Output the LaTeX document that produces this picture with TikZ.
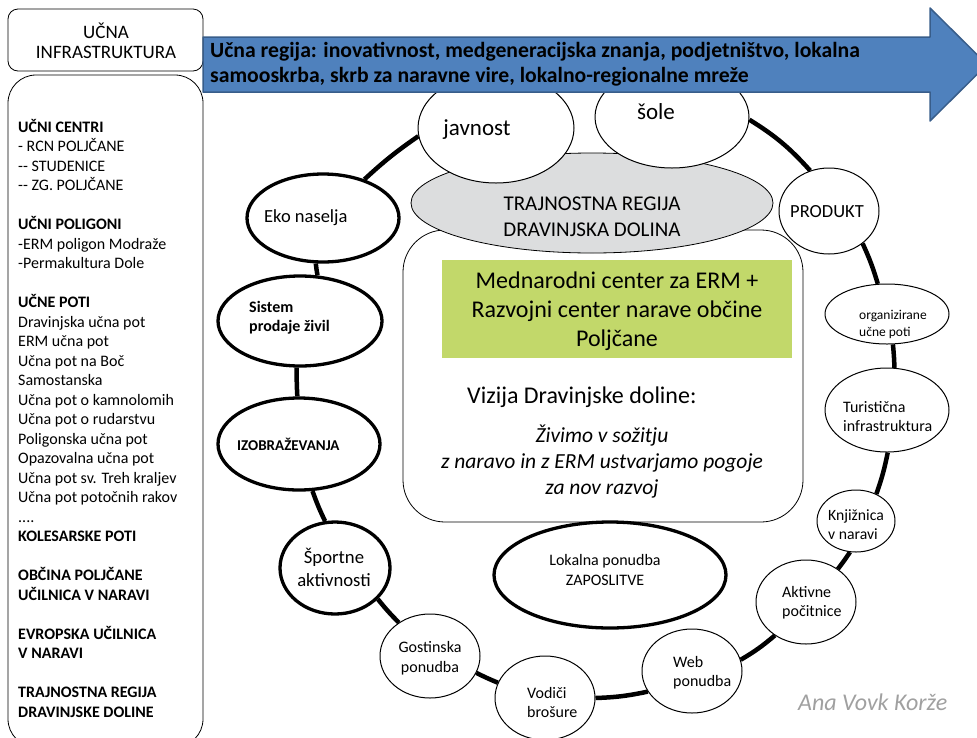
\documentclass[tikz,border=0pt]{standalone}
\usepackage{fontspec}
\setmainfont{Carlito}
\usetikzlibrary{shapes.geometric,backgrounds}
\definecolor{arrowblue}{RGB}{79,129,189}
\definecolor{arrowedge}{RGB}{56,93,138}
\definecolor{greenbox}{RGB}{194,216,106}
\definecolor{greyell}{RGB}{220,221,222}
\definecolor{signgrey}{RGB}{160,160,160}
\newcommand\fs[2]{\fontsize{#1}{#2}\selectfont}
\newcommand\LL[1]{\begin{tabular}[t]{@{}l@{}}#1\end{tabular}}
\newcommand\CC[1]{\begin{tabular}[t]{@{}c@{}}#1\end{tabular}}
\begin{document}
\begin{tikzpicture}[x=1pt,y=-1pt,line join=round,
  sz/.style 2 args={minimum width=#1pt, minimum height=#2pt},
  box/.style={draw=black, line width=0.8pt, fill=white, inner sep=0pt},
  thinell/.style={ellipse, draw=black, line width=1pt, fill=white, inner sep=0pt},
  thickell/.style={ellipse, draw=black, line width=3.3pt, fill=white, inner sep=0pt},
  ring/.style={line width=4.5pt, black},
  txt/.style={inner sep=0pt, text=black}]
\useasboundingbox (0,0) rectangle (977,737);
\clip (0,0) rectangle (977,737);

% left column
\node[box, rounded corners=10pt, sz={195}{62}] (infra) at (105.5,40) {};
\node[txt, anchor=base, font=\fs{19}{20.5}] (infrat) at (106,38) {\CC{UČNA\\INFRASTRUKTURA}};
\node[box, rounded corners=28pt, sz={195}{672}] (listbox) at (105.5,411) {};
\node[txt, anchor=base west, font=\fs{16}{19.5}] (list) at (18,132) {\LL{%
\textbf{UČNI CENTRI}\\
- RCN POLJČANE\\
-{}- STUDENICE\\
-{}- ZG. POLJČANE\\
\\
\textbf{UČNI POLIGONI}\\
-ERM poligon Modraže\\
-Permakultura Dole\\
\\
\textbf{UČNE POTI}\\
Dravinjska učna pot\\
ERM učna pot\\
Učna pot na Boč\\
Samostanska\\
Učna pot o kamnolomih\\
Učna pot o rudarstvu\\
Poligonska učna pot\\
Opazovalna učna pot\\
Učna pot sv. Treh kraljev\\
Učna pot potočnih rakov\\
....\\
\textbf{KOLESARSKE POTI}\\
\\
\textbf{OBČINA POLJČANE}\\
\textbf{UČILNICA V NARAVI}\\
\\
\textbf{EVROPSKA UČILNICA}\\
\textbf{V NARAVI}\\
\\
\textbf{TRAJNOSTNA REGIJA}\\
\textbf{DRAVINJSKE DOLINE}}};

% centre
\node[box, rounded corners=42pt, sz={400}{292}] (mainbox) at (603,376) {};
\node[fill=greenbox, inner sep=0pt, sz={350}{98}] (green) at (617,309) {};
\node[ellipse, fill=greyell, draw=black, line width=0.8pt, inner sep=0pt, sz={362}{100}] (region) at (592,203) {};

% ring ellipses
\node[thinell, sz={156}{110}] (javnost) at (496,128) {};
\node[thinell, sz={154}{102}] (sole) at (672,117) {};
\node[thickell, sz={152}{88}] (eko) at (323,218) {};
\node[thickell, sz={164}{90}] (sistem) at (300,321) {};
\node[thickell, sz={162}{92}] (izob) at (299,444) {};
\node[thickell, sz={110}{92}] (sportne) at (335,568) {};
\node[thinell, sz={100}{84}] (gost) at (430,656) {};
\node[thinell, sz={100}{84}] (vodici) at (545,698) {};
\node[thinell, sz={100}{84}] (web) at (692,671) {};
\node[thinell, sz={100}{84}] (aktivne) at (806,602) {};
\node[thinell, sz={78}{62}] (knj) at (856,521) {};
\node[thinell, sz={124}{84}] (tur) at (887,410) {};
\node[thinell, sz={124}{60}] (org) at (887,314) {};
\node[thinell, sz={100}{86}] (produkt) at (829,211) {};
\node[thickell, sz={232}{106}] (lokalna) at (610,575) {};

% ring connectors
\begin{pgfonlayer}{background}
\draw[ring] (javnost.186) to[bend right=4] (eko.43);
\draw[ring] (eko.261) to[bend right=2] (sistem.69);
\draw[ring] (sistem.266) to[bend right=2] (izob.92);
\draw[ring] (izob.286) to[bend right=3] (sportne.102);
\draw[ring] (sportne.324) to[bend right=3] (gost.133);
\draw[ring] (gost.340) to[bend right=2] (vodici.162);
\draw[ring] (vodici.0) to[bend right=5] (web.205);
\draw[ring] (web.13) to[bend right=5] (aktivne.227);
\draw[ring] (aktivne.46) to[bend right=2] (knj.259);
\draw[ring] (knj.53) to[bend right=4] (tur.271);
\draw[ring] (tur.80) to[bend right=2] (org.281);
\draw[ring] (org.107) to[bend right=4] (produkt.316);
\draw[ring] (produkt.115) to[bend right=8] (sole.358);
\end{pgfonlayer}

% texts
\node[txt, anchor=base, font=\fs{23}{28}] (javnostt) at (477,135) {javnost};
\node[txt, anchor=base, font=\fs{23}{28}] (solet) at (656,119) {šole};
\node[txt, anchor=base, font=\fs{21}{26}] (regiont) at (592,210) {\CC{TRAJNOSTNA REGIJA\\DRAVINJSKA DOLINA}};
\node[txt, anchor=base, font=\fs{24}{29.3}] (greent) at (617,288) {\CC{Mednarodni center za ERM +\\Razvojni center narave občine\\Poljčane}};
\node[txt, anchor=base west, font=\fs{24}{29}] (vizija) at (467,403) {Vizija Dravinjske doline:};
\node[txt, anchor=base, font=\fs{21.5}{26}\itshape] (motto) at (602,442) {\CC{Živimo v sožitju\\z naravo in z ERM ustvarjamo pogoje\\za nov razvoj}};
\node[txt, anchor=base west, font=\fs{18.5}{22}] (ekot) at (264,222) {Eko naselja};
\node[txt, anchor=base west, font=\fs{16}{19.5}\bfseries] (sistemt) at (249,312) {\LL{Sistem\\prodaje živil}};
\node[txt, anchor=base west, font=\fs{15}{18}\bfseries] (izobt) at (237,450) {IZOBRAŽEVANJA};
\node[txt, anchor=base, font=\fs{18.7}{23.4}] (sportnet) at (334,563) {\CC{Športne\\aktivnosti}};
\node[txt, anchor=base, font=\fs{16}{20}] (gostt) at (430,652) {\CC{Gostinska\\ponudba}};
\node[txt, anchor=base west, font=\fs{16}{19.5}] (vodicit) at (527,698) {\LL{Vodiči\\brošure}};
\node[txt, anchor=base west, font=\fs{16}{19.5}] (webt) at (673,667) {\LL{Web\\ponudba}};
\node[txt, anchor=base west, font=\fs{16}{19}] (aktivnet) at (782,597) {\LL{Aktivne\\počitnice}};
\node[txt, anchor=base west, font=\fs{15.7}{19}] (knjt) at (828,520) {\LL{Knjižnica\\v naravi}};
\node[txt, anchor=base west, font=\fs{16}{19}] (turt) at (843,412) {\LL{Turistična\\infrastruktura}};
\node[txt, anchor=base west, font=\fs{13.5}{17}] (orgt) at (859,319) {\LL{organizirane\\učne poti}};
\node[txt, anchor=base west, font=\fs{18.5}{22}] (produktt) at (790,217) {PRODUKT};
\node[txt, anchor=base, font=\fs{16}{20}] (lokalnat) at (605,565) {\CC{Lokalna ponudba\\ZAPOSLITVE}};
\node[txt, anchor=base west, text=signgrey, font=\fs{24}{28}\itshape] (author) at (798,710) {Ana Vovk Korže};

% arrow
\path[fill=arrowblue, draw=arrowedge, line width=1.5pt]
  (203,37) -- (930,37) -- (930,8) -- (987,64.5) -- (930,121) -- (930,92) -- (203,92) -- cycle;
\node[txt, anchor=base west, font=\fs{21.7}{25}\bfseries] (goal) at (210,57) {\LL{Učna regija: inovativnost, medgeneracijska znanja, podjetništvo, lokalna\\samooskrba, skrb za naravne vire, lokalno-regionalne mreže}};
\end{tikzpicture}
\end{document}
